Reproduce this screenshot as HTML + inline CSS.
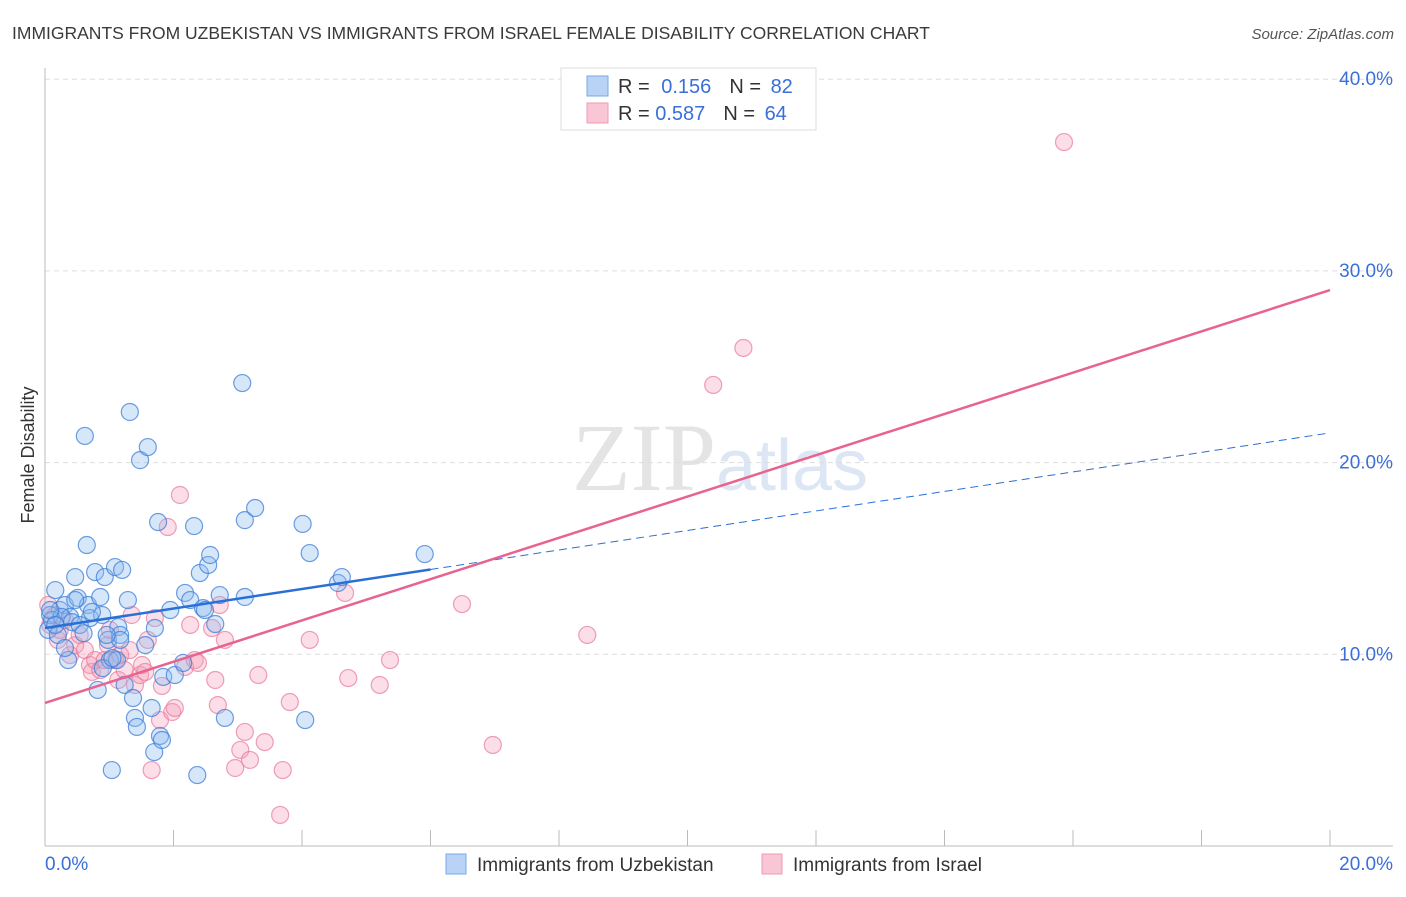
<!DOCTYPE html>
<html><head><meta charset="utf-8"><style>
body{margin:0;background:#fff;font-family:"Liberation Sans",sans-serif}
</style></head><body>
<svg id="c" width="1406" height="892" xmlns="http://www.w3.org/2000/svg" font-family="Liberation Sans, sans-serif">
<text x="12" y="39" font-size="17.5" fill="#3a3a3a">IMMIGRANTS FROM UZBEKISTAN VS IMMIGRANTS FROM ISRAEL FEMALE DISABILITY CORRELATION CHART</text>
<text x="1394" y="39" font-size="15" font-style="italic" fill="#555" text-anchor="end">Source: ZipAtlas.com</text>
<text x="34" y="455" font-size="18" fill="#333" text-anchor="middle" transform="rotate(-90 34 455)">Female Disability</text>
<text x="720" y="490" font-size="96" fill="#e4e4e4" text-anchor="middle" font-family="Liberation Serif, serif">ZIP<tspan fill="#dce6f4" font-family="Liberation Sans, sans-serif" font-size="72">atlas</tspan></text>
<g id="grid"></g><g id="axes"></g><g id="pts"></g><g id="lines"></g>
<g>
<rect x="561" y="68" width="255" height="62" fill="#fff" stroke="#ddd"/>
<rect x="587" y="76" width="21" height="20" fill="#b8d3f5" stroke="#7aa8e8"/>
<rect x="587" y="103" width="21" height="20" fill="#f9c6d5" stroke="#ee9ab4"/>
<text x="618" y="93" font-size="20" fill="#333">R = <tspan fill="#3a6fd8" dx="6">0.156</tspan><tspan dx="18" fill="#333">N = </tspan><tspan fill="#3a6fd8" dx="4">82</tspan></text>
<text x="618" y="120" font-size="20" fill="#333">R = <tspan fill="#3a6fd8">0.587</tspan><tspan dx="18" fill="#333">N = </tspan><tspan fill="#3a6fd8" dx="4">64</tspan></text>
</g>
<g>
<rect x="446" y="854" width="20" height="20" fill="#b8d3f5" stroke="#7aa8e8"/>
<text x="477" y="871" font-size="19" fill="#333">Immigrants from Uzbekistan</text>
<rect x="762" y="854" width="20" height="20" fill="#f9c6d5" stroke="#ee9ab4"/>
<text x="793" y="871" font-size="19" fill="#333">Immigrants from Israel</text>
</g>
</svg>
<script>
const yTicks=[10,20,30,40];
const xTickLabels=["0.0%","20.0%"];
const blueX=[0.16,0.23,0.31,0.39,0.47,0.51,0.62,0.65,0.67,0.70,0.78,0.86,0.89,0.93,0.98,1.01,1.04,1.09,1.14,1.17,1.20,1.24,1.29,1.32,1.37,1.40,1.43,1.48,1.60,1.66,1.70,1.71,1.76,1.79,1.82,1.84,1.95,2.02,2.15,2.18,2.26,2.32,2.37,2.41,2.46,2.49,2.54,2.57,2.65,2.72,2.80,3.07,3.11,3.11,3.27,4.01,4.05,4.12,4.56,4.62,5.91,0.05,0.08,0.11,0.20,0.26,0.36,0.42,0.54,0.73,0.82,1.12,1.17,0.90,1.56,0.96,0.08,0.16,0.31,0.47,0.60,1.05];
const blueY=[13.35,12.31,12.57,11.95,14.03,12.94,21.39,15.70,12.57,11.89,14.29,12.99,12.05,14.03,10.75,9.70,3.96,14.55,11.42,11.01,14.40,8.40,12.83,22.64,7.72,6.68,6.21,20.13,20.81,7.20,4.90,11.37,16.90,5.74,5.53,8.82,12.31,8.92,9.55,13.20,12.83,16.69,3.70,14.24,12.41,12.31,14.66,15.18,11.58,13.09,6.68,24.15,17.00,12.99,17.63,16.80,6.57,15.28,13.72,14.03,15.23,11.27,12.05,11.79,11.01,11.95,9.70,11.68,11.53,12.21,8.14,9.70,10.75,9.28,10.48,11.01,12.31,11.53,10.33,12.83,11.10,9.80];
const pinkX=[0.05,0.08,0.16,0.20,0.23,0.31,0.39,0.47,0.54,0.62,0.70,0.73,0.78,0.86,0.93,0.98,1.01,1.09,1.14,1.17,1.24,1.32,1.35,1.40,1.48,1.51,1.56,1.60,1.66,1.71,1.79,1.82,1.91,1.98,2.02,2.10,2.18,2.26,2.33,2.38,2.60,2.65,2.69,2.72,2.80,2.96,3.04,3.11,3.19,3.32,3.42,3.70,3.66,3.81,4.12,4.67,4.72,5.21,5.37,6.49,6.97,8.44,10.40,10.87,15.86];
const pinkY=[12.57,11.53,12.05,10.75,11.27,11.79,9.96,10.48,11.01,10.22,9.44,9.08,9.70,9.18,9.70,10.48,11.27,9.70,8.66,9.96,9.18,10.22,12.05,8.40,8.92,9.44,9.08,10.75,3.96,11.89,6.57,8.35,16.64,6.99,7.20,18.31,9.34,11.53,9.70,9.55,11.37,8.66,7.35,12.57,10.75,4.07,5.01,5.95,4.49,8.92,5.42,3.96,1.62,7.51,10.75,13.20,8.76,8.40,9.70,12.62,5.27,11.01,24.05,25.98,36.72];
const blueTrend=[11.37,21.55];
const blueSolidEnd=6.0;
const pinkTrend=[7.46,29.0];
const X0=45,X1=1330,Y0=846,PY=19.17;
const sx=v=>X0+(X1-X0)*v/20;
const sy=v=>Y0-v*PY;
const NS="http://www.w3.org/2000/svg";
function mk(tag,parent,attrs){const e=document.createElementNS(NS,tag);for(const k in attrs)e.setAttribute(k,attrs[k]);parent.appendChild(e);return e;}
const grid=document.getElementById('grid'),axes=document.getElementById('axes'),pts=document.getElementById('pts'),lines=document.getElementById('lines');
yTicks.forEach(t=>{
  const l=mk('line',grid,{x1:X0,x2:1393,y1:sy(t),y2:sy(t),stroke:'#ddd','stroke-dasharray':'5,4'});
  
  
  const tx=mk('text',grid,{x:1393,y:sy(t)+6,'font-size':19,fill:'#3a6fd8','text-anchor':'end'});
  tx.textContent=t.toFixed(1)+'%';
  
  
});
const ax=mk('line',axes,{x1:X0,x2:1393,y1:Y0,y2:Y0,stroke:'#bbb'});


const ay=mk('line',axes,{x1:X0,x2:X0,y1:68,y2:Y0,stroke:'#bbb'});


for(let i=1;i<=10;i++){const x=sx(i*2);const tk=mk('line',axes,{x1:x,x2:x,y1:Y0-16,y2:Y0,stroke:'#bbb'});

}
const l0=mk('text',axes,{x:X0,y:870,'font-size':19,fill:'#3a6fd8'});l0.textContent=xTickLabels[0];


const l1=mk('text',axes,{x:1393,y:870,'font-size':19,fill:'#3a6fd8','text-anchor':'end'});l1.textContent=xTickLabels[1];


pinkX.forEach((v,i)=>{const c=mk('circle',pts,{cx:sx(v),cy:sy(pinkY[i]),r:8.5,fill:'rgba(244,160,185,0.35)',stroke:'rgba(232,120,155,0.7)','stroke-width':1.2});

});
blueX.forEach((v,i)=>{const c=mk('circle',pts,{cx:sx(v),cy:sy(blueY[i]),r:8.5,fill:'rgba(140,185,240,0.35)',stroke:'rgba(60,125,215,0.75)','stroke-width':1.2});

});
const by=x=>blueTrend[0]+(blueTrend[1]-blueTrend[0])*x/20;
const bs=mk('line',lines,{x1:sx(0),y1:sy(by(0)),x2:sx(blueSolidEnd),y2:sy(by(blueSolidEnd)),stroke:'#2a6fd6','stroke-width':2.5});


const bd=mk('line',lines,{x1:sx(blueSolidEnd),y1:sy(by(blueSolidEnd)),x2:sx(20),y2:sy(by(20)),stroke:'#2a6fd6','stroke-width':1,'stroke-dasharray':'8,5'});


const pl=mk('line',lines,{x1:sx(0),y1:sy(pinkTrend[0]),x2:sx(20),y2:sy(pinkTrend[1]),stroke:'#e8638f','stroke-width':2.5});


</script>
</body></html>
